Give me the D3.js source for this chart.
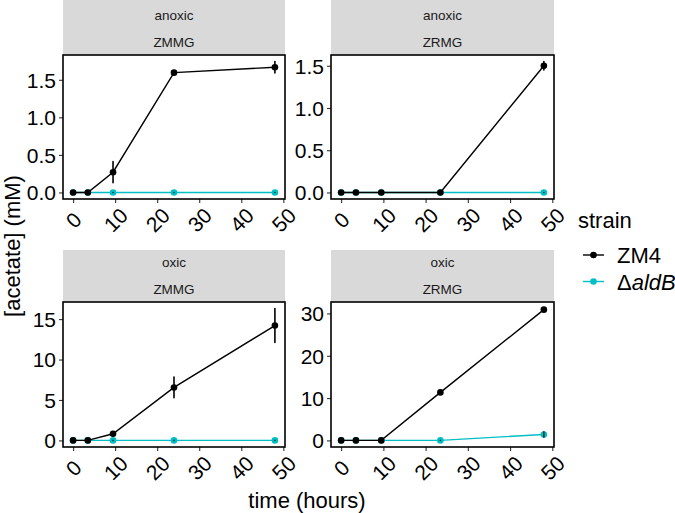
<!DOCTYPE html>
<html>
<head>
<meta charset="utf-8">
<script src="https://cdn.jsdelivr.net/npm/d3@7"></script>
<style>
  body { margin: 0; background: #fff; }
  svg { display: block; font-family: "Liberation Sans", Arial, sans-serif; }
</style>
</head>
<body>
<svg id="chart" width="675" height="513"></svg>
<script>
// ---- data ----
const strains = ["ZM4", "ΔaldB"];
const strainColors = ["#000000", "#00BFC4"];
const oxygenLevels = ["anoxic", "anoxic", "oxic", "oxic"];
const media = ["ZMMG", "ZRMG", "ZMMG", "ZRMG"];
const timesZMMG = [0, 3.5, 9.5, 24, 48];
const timesZRMG = [0, 3.5, 9.5, 23.5, 48];
// values per panel: [ZM4 values, ΔaldB values]
const anoxicZMMG_ZM4 = [0, 0, 0.27, 1.595, 1.667];
const anoxicZMMG_ZM4_err = [0, 0, 0.14, 0.01, 0.076];
const anoxicZMMG_aldB = [0, 0, 0, 0, 0];
const anoxicZMMG_aldB_err = [0, 0, 0, 0, 0];
const anoxicZRMG_ZM4 = [0, 0, 0, 0, 1.5];
const anoxicZRMG_ZM4_err = [0, 0, 0, 0, 0.05];
const anoxicZRMG_aldB = [0, 0, 0, 0, 0];
const anoxicZRMG_aldB_err = [0, 0, 0, 0, 0];
const oxicZMMG_ZM4 = [0, 0, 0.82, 6.55, 14.2];
const oxicZMMG_ZM4_err = [0, 0, 0.1, 1.28, 2.1];
const oxicZMMG_aldB = [0, 0, 0, 0, 0];
const oxicZMMG_aldB_err = [0, 0, 0, 0, 0];
const oxicZRMG_ZM4 = [0, 0, 0, 11.35, 30.9];
const oxicZRMG_ZM4_err = [0, 0, 0, 0.2, 0.25];
const oxicZRMG_aldB = [0, 0, 0, 0, 1.4];
const oxicZRMG_aldB_err = [0, 0, 0, 0, 0.65];
const xTicks = [0, 10, 20, 30, 40, 50];
const yTicksPanels = [[0, 0.5, 1.0, 1.5], [0, 0.5, 1.0, 1.5], [0, 5, 10, 15], [0, 10, 20, 30]];
const yTickFormats = [".1f", ".1f", "d", "d"];

const panelTimes = [timesZMMG, timesZRMG, timesZMMG, timesZRMG];
const panelVals = [
  [anoxicZMMG_ZM4, anoxicZMMG_aldB],
  [anoxicZRMG_ZM4, anoxicZRMG_aldB],
  [oxicZMMG_ZM4, oxicZMMG_aldB],
  [oxicZRMG_ZM4, oxicZRMG_aldB]
];
const panelErrs = [
  [anoxicZMMG_ZM4_err, anoxicZMMG_aldB_err],
  [anoxicZRMG_ZM4_err, anoxicZRMG_aldB_err],
  [oxicZMMG_ZM4_err, oxicZMMG_aldB_err],
  [oxicZRMG_ZM4_err, oxicZRMG_aldB_err]
];

// ---- layout ----
const svg = d3.select("#chart");
const colX = [[63, 285], [331, 554]];
const rowY = [{stripTop: 0, stripBot: 55, panelBot: 199}, {stripTop: 250, stripBot: 302, panelBot: 447}];

const xScaleDomain = [-2.4, 50.4];

for (let p = 0; p < 4; p++) {
  const c = p % 2, r = Math.floor(p / 2);
  const [x0, x1] = colX[c];
  const {stripTop, stripBot, panelBot} = rowY[r];

  const x = d3.scaleLinear().domain(xScaleDomain).range([x0, x1]);
  // y domain: 0..max(val+err) with 5% expansion
  let ymax = 0, ymin = 0;
  panelVals[p].forEach((vals, s) => vals.forEach((v, i) => {
    ymax = Math.max(ymax, v + panelErrs[p][s][i]);
    ymin = Math.min(ymin, v - panelErrs[p][s][i]);
  }));
  ymin = Math.max(ymin, 0);
  const span = ymax - ymin;
  const y = d3.scaleLinear().domain([ymin - 0.05 * span, ymax + 0.05 * span]).range([panelBot, stripBot]);

  const g = svg.append("g");
  // strip
  g.append("rect").attr("x", x0).attr("y", stripTop).attr("width", x1 - x0).attr("height", stripBot - stripTop)
    .attr("fill", "#D9D9D9");
  g.append("text").attr("x", (x0 + x1) / 2).attr("y", stripBot - 39.3).attr("dy", "0.35em")
    .attr("text-anchor", "middle").attr("font-size", 13.5).attr("fill", "#1A1A1A").text(oxygenLevels[p]);
  g.append("text").attr("x", (x0 + x1) / 2).attr("y", stripBot - 12.5).attr("dy", "0.35em")
    .attr("text-anchor", "middle").attr("font-size", 13.5).attr("fill", "#1A1A1A").text(media[p]);

  // panel background
  g.append("rect").attr("x", x0).attr("y", stripBot).attr("width", x1 - x0).attr("height", panelBot - stripBot)
    .attr("fill", "#fff");

  // axes
  const xAxis = d3.axisBottom(x).tickValues(xTicks).tickSize(4).tickPadding(0).tickFormat(d3.format("d"));
  const xa = g.append("g").attr("transform", `translate(0,${panelBot})`).call(xAxis);
  xa.select(".domain").remove();
  xa.selectAll(".tick line").attr("stroke", "#333").attr("stroke-width", 1.1);
  xa.selectAll(".tick text").attr("font-size", 21).attr("fill", "#000")
    .attr("y", 0).attr("dy", 0)
    .attr("text-anchor", "middle")
    .attr("dominant-baseline", "central")
    .attr("transform", "translate(0,21) rotate(-45)");

  const yAxis = d3.axisLeft(y).tickValues(yTicksPanels[p]).tickSize(4).tickPadding(3)
    .tickFormat(d3.format(yTickFormats[p]));
  const ya = g.append("g").attr("transform", `translate(${x0},0)`).call(yAxis);
  ya.select(".domain").remove();
  ya.selectAll(".tick line").attr("stroke", "#333").attr("stroke-width", 1.1);
  ya.selectAll(".tick text").attr("font-size", 21).attr("fill", "#000").attr("dy", "0.35em");

  // series: draw ΔaldB first, then ZM4 on top
  const times = panelTimes[p];
  const line = d3.line().x(d => x(d.t)).y(d => y(d.v));
  [1, 0].forEach(s => {
    const pts = times.map((t, i) => ({t, v: panelVals[p][s][i], e: panelErrs[p][s][i]}));
    g.append("path").datum(pts).attr("d", line).attr("fill", "none")
      .attr("stroke", strainColors[s]).attr("stroke-width", 1.4);
    g.selectAll(null).data(pts).enter().append("circle")
      .attr("cx", d => x(d.t)).attr("cy", d => y(d.v)).attr("r", 3.3).attr("fill", strainColors[s]);
    g.selectAll(null).data(pts).enter().append("line")
      .attr("x1", d => x(d.t)).attr("x2", d => x(d.t))
      .attr("y1", d => y(d.v - d.e)).attr("y2", d => y(d.v + d.e))
      .attr("stroke", "#000").attr("stroke-width", 1.6).attr("stroke-linecap", "round")
      .attr("opacity", s === 1 ? 0.75 : 1);
  });

  // panel border
  g.append("rect").attr("x", x0).attr("y", stripBot).attr("width", x1 - x0).attr("height", panelBot - stripBot)
    .attr("fill", "none").attr("stroke", "#000").attr("stroke-width", 1.6);
}

// axis titles
svg.append("text").attr("transform", "translate(12,246) rotate(-90)").attr("text-anchor", "middle")
  .attr("dominant-baseline", "central").attr("font-size", 22).text("[acetate] (mM)");
svg.append("text").attr("x", 307).attr("y", 500).attr("text-anchor", "middle")
  .attr("dominant-baseline", "central").attr("font-size", 22).text("time (hours)");

// legend
const leg = svg.append("g");
leg.append("text").attr("x", 578).attr("y", 220).attr("dominant-baseline", "central")
  .attr("font-size", 22).text("strain");
const legY = [255, 281.5];
strains.forEach((s, i) => {
  leg.append("line").attr("x1", 583).attr("x2", 604).attr("y1", legY[i]).attr("y2", legY[i])
    .attr("stroke", strainColors[i]).attr("stroke-width", 1.4);
  leg.append("circle").attr("cx", 593.5).attr("cy", legY[i]).attr("r", 3.3).attr("fill", strainColors[i]);
  const t = leg.append("text").attr("x", 617).attr("y", legY[i]).attr("dominant-baseline", "central")
    .attr("font-size", 22);
  if (s === "ΔaldB") {
    t.append("tspan").text("Δ");
    t.append("tspan").attr("font-style", "italic").text("aldB");
  } else {
    t.text(s);
  }
});
</script>
</body>
</html>
